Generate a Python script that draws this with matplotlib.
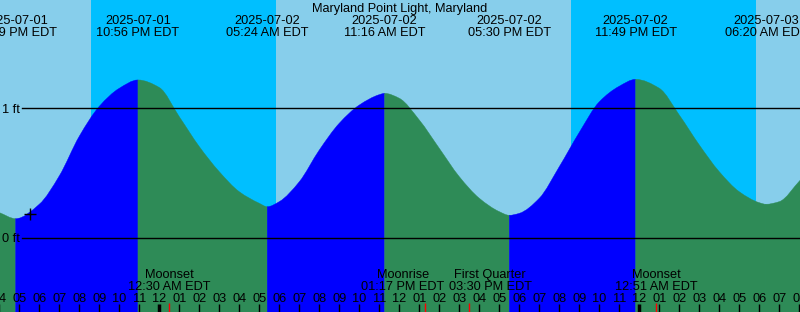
import numpy as np
import matplotlib
matplotlib.use("Agg")
import matplotlib.pyplot as plt
import matplotlib.transforms as mtransforms
from matplotlib.path import Path
from matplotlib.patches import PathPatch

# Tide extremes (hours from midnight 2025-07-02, EDT)
tide_hours = [-7.183, -1.067, 5.4, 11.267, 17.5, 23.817, 30.333]
tide_kind = ["Low", "High", "Low", "High", "Low", "High", "Low"]
tide_dates = ["2025-07-01", "2025-07-01", "2025-07-02", "2025-07-02",
              "2025-07-02", "2025-07-02", "2025-07-03"]
tide_times = ["04:49 PM EDT", "10:56 PM EDT", "05:24 AM EDT", "11:16 AM EDT",
              "05:30 PM EDT", "11:49 PM EDT", "06:20 AM EDT"]

# Water level (ft)
curve_hours = [-8, -7.183, -6, -5, -4, -3, -2, -1.067, 0, 1, 2, 3, 4, 5,
               5.4, 6, 7, 8, 9, 10, 11, 11.267, 12, 13, 14, 15, 16, 17, 17.5,
               18, 19, 20, 21, 22, 23, 23.817, 25, 26, 27, 28, 29, 30,
               30.333, 31, 32.05]
curve_ft = [0.198, 0.151, 0.262, 0.480, 0.785, 1.015, 1.154, 1.218,
            1.160, 0.935, 0.705, 0.512, 0.358, 0.269, 0.243, 0.282, 0.435, 0.679,
            0.885, 1.025, 1.105, 1.115, 1.077, 0.910, 0.692, 0.474, 0.308, 0.205,
            0.177, 0.192, 0.308, 0.551, 0.815, 1.050, 1.170, 1.223, 1.154,
            0.948, 0.718, 0.512, 0.358, 0.274, 0.262, 0.282, 0.448]

# Night (sunset -> sunrise)
night_start = [-3.415, 20.585]
night_end = [5.835, 29.835]

# Moon events
moon_hours = [0.5, 13.283, 15.5, 24.85]
moon_names = ["Moonset", "Moonrise", "First Quarter", "Moonset"]
moon_times = ["12:30 AM EDT", "01:17 PM EDT", "03:30 PM EDT", "12:51 AM EDT"]
moon_shift = [0, -1.1, 1.05, 0]  # labels nudged apart (hours)

mark_hour, mark_ft = -6.465, 0.185

DAY = "#87CEEB"
NIGHT = "#00BFFF"
RISE = "#0000FF"
FALL = "#2E8B57"

W, H = 800, 312
X0 = -7.965
X1 = X0 + W / 20.0
Y0 = -(H - 238.3) / 130.0
Y1 = 238.3 / 130.0

plt.rcParams["font.family"] = ["Liberation Sans", "DejaVu Sans"]
fs = 9.2

fig = plt.figure(figsize=(W / 100, H / 100), dpi=100)
ax = fig.add_axes([0, 0, 1, 1])
ax.set_xlim(X0, X1)
ax.set_ylim(Y0, Y1)
ax.axis("off")

# sky
ax.axvspan(X0, X1, color=DAY, lw=0)
for s, e in zip(night_start, night_end):
    ax.axvspan(s, e, color=NIGHT, lw=0)

# smooth (monotone cubic) drawing of the read points
hrs = np.array(curve_hours, float)
lev = np.array(curve_ft, float)
dx = np.diff(hrs)
d = np.diff(lev) / dx
slope = np.zeros_like(lev)
slope[0], slope[-1] = d[0], d[-1]
for k in range(1, len(lev) - 1):
    if d[k - 1] * d[k] > 0:
        w1 = 2 * dx[k] + dx[k - 1]
        w2 = dx[k] + 2 * dx[k - 1]
        slope[k] = (w1 + w2) / (w1 / d[k - 1] + w2 / d[k])


def water_patch(i0, i1, color):
    verts = [(hrs[i0], Y0), (hrs[i0], lev[i0])]
    codes = [Path.MOVETO, Path.LINETO]
    for k in range(i0, i1):
        h = dx[k] / 3.0
        verts += [(hrs[k] + h, lev[k] + slope[k] * h),
                  (hrs[k + 1] - h, lev[k + 1] - slope[k + 1] * h),
                  (hrs[k + 1], lev[k + 1])]
        codes += [Path.CURVE4] * 3
    verts += [(hrs[i1], Y0), (hrs[i0], Y0)]
    codes += [Path.LINETO, Path.CLOSEPOLY]
    ax.add_patch(PathPatch(Path(verts, codes), fc=color, ec=color, lw=0.3))


idx = [0] + [int(np.argmin(np.abs(hrs - t))) for t in tide_hours] + [len(hrs) - 1]
for i in range(len(idx) - 1):
    rising = i < len(tide_kind) and tide_kind[i] == "High"
    water_patch(idx[i], idx[i + 1], RISE if rising else FALL)

trans = mtransforms.blended_transform_factory(ax.transData, ax.transAxes)


def ypx(p):
    return 1 - p / H


# datum lines
for v, lab, base in [(1, "1 ft", 113), (0, "0 ft", 241.7)]:
    ax.axhline(v, xmin=22 / W, xmax=1, color="black", lw=1.0)
    ax.text(X0 + 20 / 20.0, ypx(base), lab, transform=trans, ha="right",
            va="baseline", fontsize=fs)

ax.plot(mark_hour, mark_ft, marker="+", color="black", ms=9, mew=1.0)

# title and tide labels
ax.text(0.5, ypx(12), "Maryland Point Light, Maryland", transform=ax.transAxes,
        ha="center", va="baseline", fontsize=fs)
for h, dt, t in zip(tide_hours, tide_dates, tide_times):
    ax.text(h, ypx(24), dt, transform=trans, ha="center", va="baseline", fontsize=fs)
    ax.text(h, ypx(36), t, transform=trans, ha="center", va="baseline", fontsize=fs)

# hour ticks and labels
for h in range(int(np.floor(X0)), int(np.ceil(X1)) + 1):
    hod = h % 24
    lab = "%02d" % ((hod - 1) % 12 + 1)
    ax.text(h, ypx(301.7), lab, transform=trans, ha="center", va="baseline",
            fontsize=fs, clip_on=True)
    lw = 2.5 if hod == 0 else 1.0
    ax.plot([h, h], [ypx(304), ypx(312)], transform=trans, color="black",
            lw=lw, solid_capstyle="butt")

# moon events
for h, n, t, s in zip(moon_hours, moon_names, moon_times, moon_shift):
    ax.plot([h, h], [ypx(303), ypx(312)], transform=trans, color="red", lw=1.0,
            solid_capstyle="butt")
    ax.text(h + s, ypx(278.3), n, transform=trans, ha="center", va="baseline", fontsize=fs)
    ax.text(h + s, ypx(290), t, transform=trans, ha="center", va="baseline", fontsize=fs)

plt.savefig("out.png", dpi=100)
plt.close()
